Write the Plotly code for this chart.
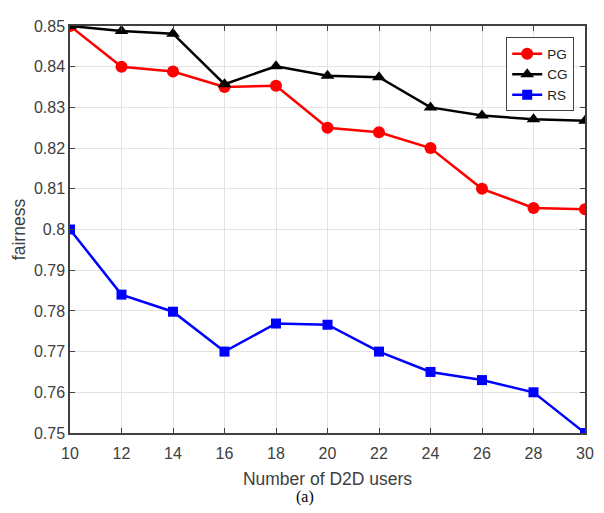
import plotly.graph_objects as go

users = [10, 12, 14, 16, 18, 20, 22, 24, 26, 28, 30]
pg = [0.850, 0.840, 0.8388, 0.8350, 0.8353, 0.8250, 0.8239, 0.8200, 0.8100, 0.8053, 0.8050]
cg = [0.850, 0.8488, 0.8481, 0.8357, 0.8401, 0.8378, 0.8374, 0.8300, 0.8280, 0.8271, 0.8267]
rs = [0.800, 0.7840, 0.7798, 0.7700, 0.7769, 0.7766, 0.7700, 0.7650, 0.7630, 0.7600, 0.7500]
y_ticks = [0.75, 0.76, 0.77, 0.78, 0.79, 0.80, 0.81, 0.82, 0.83, 0.84, 0.85]
y_tick_text = ["0.75", "0.76", "0.77", "0.78", "0.79", "0.8", "0.81", "0.82", "0.83", "0.84", "0.85"]
x_ticks = [10, 12, 14, 16, 18, 20, 22, 24, 26, 28, 30]

fig = go.Figure()
fig.add_trace(go.Scatter(x=users, y=pg, name="PG", mode="lines+markers",
                         line=dict(color="#ff0000", width=2.5),
                         marker=dict(symbol="circle", size=12, color="#ff0000")))
fig.add_trace(go.Scatter(x=users, y=cg, name="CG", mode="lines+markers",
                         line=dict(color="#000000", width=2.5),
                         marker=dict(symbol="triangle-up", size=12, color="#000000")))
fig.add_trace(go.Scatter(x=users, y=rs, name="RS", mode="lines+markers",
                         line=dict(color="#0000ff", width=2.5),
                         marker=dict(symbol="square", size=10, color="#0000ff")))

axis_font = dict(family="Liberation Sans, Arial, sans-serif", size=16, color="#404040")
fig.update_layout(
    width=596, height=505,
    margin=dict(l=62, r=10, t=11, b=80),
    paper_bgcolor="white", plot_bgcolor="white",
    font=axis_font,
    xaxis=dict(range=[10, 30], tickvals=x_ticks, showgrid=True, gridcolor="#e3e3e3",
               showline=True, linecolor="#404040", linewidth=1.5, mirror="ticks",
               ticks="inside", ticklen=5, tickcolor="#404040", zeroline=False,
               ticklabelstandoff=5,
               title=dict(text="Number of D2D users", font=dict(size=17.5, color="#404040"), standoff=12)),
    yaxis=dict(range=[0.75, 0.85], tickvals=y_ticks, ticktext=y_tick_text, showgrid=True,
               gridcolor="#e3e3e3", showline=True, linecolor="#404040", linewidth=1.5,
               mirror="ticks", ticks="inside", ticklen=5, tickcolor="#404040", zeroline=False,
               title=dict(text="fairness", font=dict(size=17.5, color="#404040"), standoff=4)),
    legend=dict(x=0.847, y=0.972, xanchor="left", yanchor="top",
                bgcolor="white", bordercolor="#404040", borderwidth=1,
                font=dict(family="Liberation Sans, Arial, sans-serif", size=13.5, color="#202020"),
                itemwidth=30, tracegroupgap=0),
    showlegend=True,
    annotations=[dict(text="(a)", xref="paper", yref="paper", x=0.456, y=-0.157,
                      xanchor="center", yanchor="middle", showarrow=False,
                      font=dict(family="Liberation Serif, Times New Roman, serif", size=16, color="black"))],
)

fig.write_html("out.html")
